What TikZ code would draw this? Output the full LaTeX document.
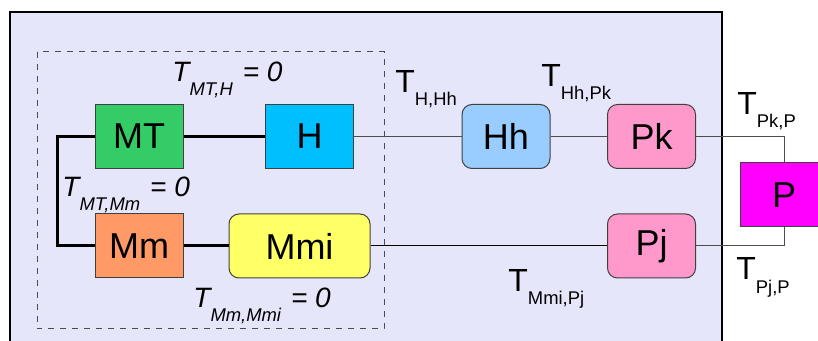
\documentclass[tikz,border=0pt]{standalone}
\usepackage{fontspec}
\setmainfont{Liberation Sans}
\usepackage{xcolor}
\usepackage{tikz}

\definecolor{panebg}{HTML}{E6E6FA}
\definecolor{mtgreen}{HTML}{33CC66}
\definecolor{hblue}{HTML}{00BFFF}
\definecolor{mmorange}{HTML}{FF9966}
\definecolor{mmiyellow}{HTML}{FFFF66}
\definecolor{hhblue}{HTML}{99CCFF}
\definecolor{ppink}{HTML}{FF99CC}
\definecolor{pmagenta}{HTML}{FF00FF}

\newcommand{\tup}[1]{T\raisebox{-6.5pt}{\fontsize{9.2}{9.2}\selectfont #1}}
\newcommand{\tzero}[1]{{\itshape T\raisebox{-7pt}{\fontsize{9.2}{9.2}\selectfont #1}\hspace{5pt}= 0}}

\begin{document}
\begin{tikzpicture}[x=0.5pt, y=-0.5pt,
  box/.style={draw=black!75, line width=0.5pt, minimum width=44pt, minimum height=32pt, inner sep=0pt, font=\fontsize{18}{20}\selectfont},
  rbox/.style={box, rounded corners=5pt},
  tlabel/.style={anchor=base west, inner sep=0pt, font=\fontsize{16}{18}\selectfont},
  zlabel/.style={anchor=base west, inner sep=0pt, font=\fontsize{14}{16}\selectfont}]
\clip (0,0) rectangle (818,341);
\fill[white] (0,0) rectangle (818,341);
\draw[fill=panebg, line width=0.6pt] (10,12) rectangle (722,360);
\draw[dashed, line width=0.5pt, black!70] (37,52) rectangle (384,329);

\node[box, fill=mtgreen] (MT) at (139,136.5) {MT};
\node[box, fill=hblue] (H) at (309.5,136.5) {H};
\node[box, fill=mmorange] (Mm) at (139,246) {Mm};
\node[rbox, fill=mmiyellow, minimum width=70.5pt] (Mmi) at (299.5,246) {Mmi};
\node[rbox, fill=hhblue] (Hh) at (506,136.5) {Hh};
\node[rbox, fill=ppink] (Pk) at (651.5,136.5) {Pk};
\node[rbox, fill=ppink] (Pj) at (651.5,246) {Pj};
\node[box, fill=pmagenta] (P) at (784,195) {P};

\draw[line width=1.5pt] (MT.west) -- ++(-37,0) |- (Mm.west);
\draw[line width=1.5pt] (MT) -- (H);
\draw[line width=1.5pt] (Mm) -- (Mmi);
\draw[black!70, line width=0.5pt] (H) -- (Hh);
\draw[black!70, line width=0.5pt] (Hh) -- (Pk);
\draw[black!70, line width=0.5pt] (Pk.east) -| (P.north);
\draw[line width=0.5pt] (Mmi) -- (Pj);
\draw[black!70, line width=0.5pt] (Pj.east) -| (P.south);

\node[zlabel] (tmth) at (172,82) {\tzero{MT,H}};
\node[zlabel] (tmtmm) at (62,197) {\tzero{MT,Mm}};
\node[zlabel] (tmmmmi) at (193,307) {\tzero{Mm,Mmi}};
\node[tlabel] (thhh) at (395,93) {\tup{H,Hh}};
\node[tlabel] (thhpk) at (541,87) {\tup{Hh,Pk}};
\node[tlabel] (tpkp) at (737,115) {\tup{Pk,P}};
\node[tlabel] (tpjp) at (736,280) {\tup{Pj,P}};
\node[tlabel] (tmmipj) at (508,292) {\tup{Mmi,Pj}};
\end{tikzpicture}
\end{document}
